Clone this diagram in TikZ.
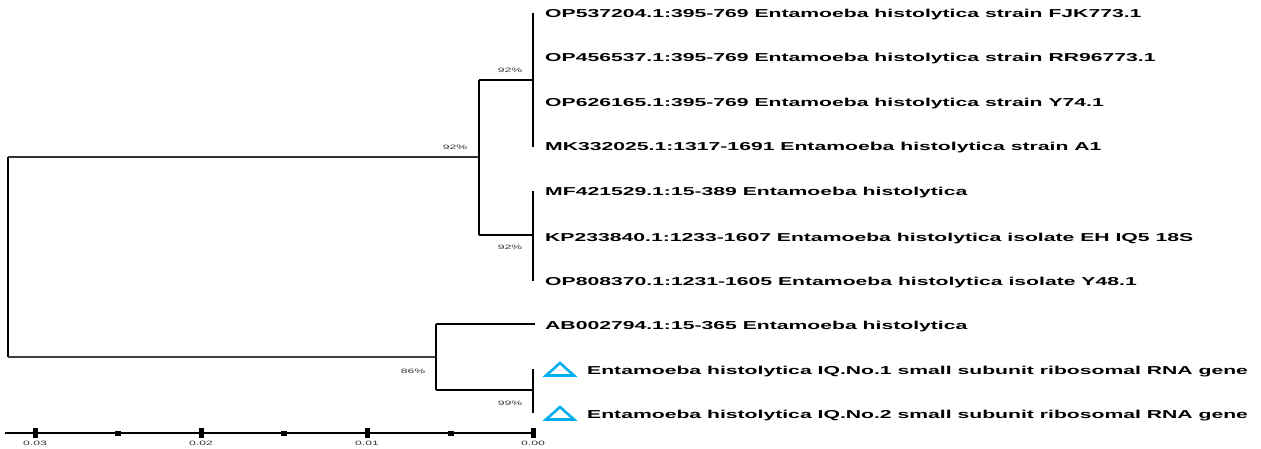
\documentclass[tikz,border=0pt]{standalone}
\usepackage{fontspec}
\setmainfont{Liberation Sans}
\definecolor{tricyan}{RGB}{0,174,239}
\newcommand{\wide}[1]{\scalebox{1.84}[1]{#1}}
\newcommand{\widesm}[1]{\scalebox{1.94}[1]{#1}}
\begin{document}
\begin{tikzpicture}[x=1pt,y=-1pt,
  br/.style={line width=1.3pt,black},
  tip/.style={line width=2pt,black},
  leaf/.style={anchor=base west,inner sep=0pt,font=\bfseries\fontsize{11.5}{13}\selectfont},
  boot/.style={inner sep=0pt,font=\fontsize{6.3}{8}\selectfont,text=black!80},
  tri/.style={draw=tricyan,line width=2.6pt,line join=miter},
  scl/.style={inner sep=0pt,font=\fontsize{6.3}{8}\selectfont,text=black!80}]
\useasboundingbox (0,0) rectangle (1261,449);
% internal node coordinates
\coordinate (rt) at (8,157);
\coordinate (rb) at (8,357);
\coordinate (nA) at (479,157);
\coordinate (nAt) at (479,80);
\coordinate (nAb) at (479,235);
\coordinate (nB) at (533,80);
\coordinate (nC) at (533,235);
\coordinate (nD) at (436,357);
\coordinate (nDt) at (436,324);
\coordinate (nDb) at (436,390);
\coordinate (nE) at (533,390);
% leaves
\coordinate (l1) at (533,13);
\coordinate (l4) at (533,147);
\coordinate (l5) at (533,191);
\coordinate (l7) at (533,281);
\coordinate (l8) at (535,324);
\coordinate (l9) at (533,369);
\coordinate (l10) at (533,413);
% branches
\draw[br] (rt) -- (rb);
\draw[br,black!80] (rt) -- (nA);
\draw[br,black!75] (rb) -- (nD);
\draw[br] (nAt) -- (nAb);
\draw[br] (nAt) -- (nB);
\draw[br] (nAb) -- (nC);
\draw[tip] (l1) -- (l4);
\draw[tip] (l5) -- (l7);
\draw[br] (nDt) -- (nDb);
\draw[br] (nDt) -- (l8);
\draw[br] (nDb) -- (nE);
\draw[tip] (l9) -- (l10);
% labels
\node[leaf] (t1) at (545,18) {\wide{OP537204.1:395-769 Entamoeba histolytica strain FJK773.1}};
\node[leaf] (t2) at (545,62) {\wide{OP456537.1:395-769 Entamoeba histolytica strain RR96773.1}};
\node[leaf] (t3) at (545,107) {\wide{OP626165.1:395-769 Entamoeba histolytica strain Y74.1}};
\node[leaf] (t4) at (545,151) {\wide{MK332025.1:1317-1691 Entamoeba histolytica strain A1}};
\node[leaf] (t5) at (545,196) {\wide{MF421529.1:15-389 Entamoeba histolytica}};
\node[leaf] (t6) at (545,241) {\wide{KP233840.1:1233-1607 Entamoeba histolytica isolate EH IQ5 18S}};
\node[leaf] (t7) at (545,285) {\wide{OP808370.1:1231-1605 Entamoeba histolytica isolate Y48.1}};
\node[leaf] (t8) at (545,329) {\wide{AB002794.1:15-365 Entamoeba histolytica}};
\node[leaf] (t9) at (587,374) {\wide{Entamoeba histolytica IQ.No.1 small subunit ribosomal RNA gene}};
\node[leaf] (t10) at (587,418) {\wide{Entamoeba histolytica IQ.No.2 small subunit ribosomal RNA gene}};
% triangles
\draw[tri] (546,375.5) -- (560,363) -- (574,375.5) -- cycle;
\draw[tri] (546,419.5) -- (560,407) -- (574,419.5) -- cycle;
% bootstrap
\node[boot] (b1) at (510,70.5) {\widesm{92\%}};
\node[boot] (b2) at (455,147) {\widesm{92\%}};
\node[boot] (b3) at (510,247.5) {\widesm{92\%}};
\node[boot] (b4) at (413,371) {\widesm{86\%}};
\node[boot] (b5) at (510,403) {\widesm{99\%}};
% scale bar
\coordinate (s0) at (5,433);
\coordinate (s1) at (533,433);
\draw[line width=2pt] (s0) -- (s1);
\foreach \x/\t in {35/0.03,201/0.02,367/0.01,533/0.00}{
  \fill (\x-2.5,428) rectangle (\x+2.5,438);
  \node[scl] at (\x,443.5) {\widesm{\t}};
}
\foreach \x in {118,284,451}{
  \fill (\x-3,430.5) rectangle (\x+3,435.5);
}
\end{tikzpicture}
\end{document}
